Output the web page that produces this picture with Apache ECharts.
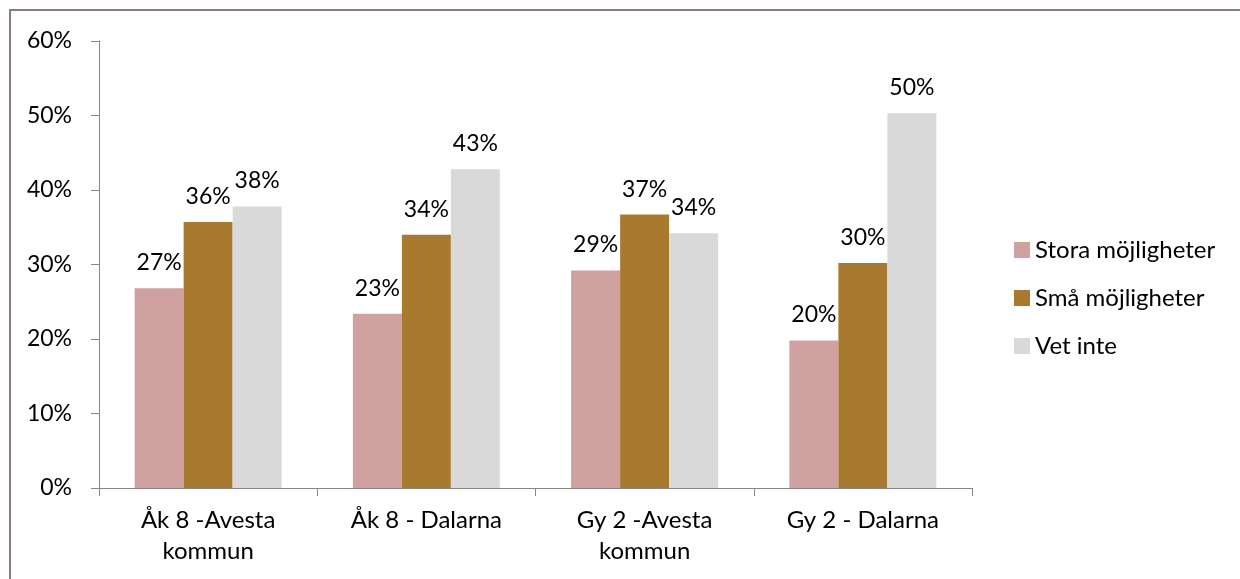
<!DOCTYPE html>
<html>
<head>
<meta charset="utf-8">
<script src="https://cdn.jsdelivr.net/npm/echarts@6/dist/echarts.min.js"></script>
<style>
html,body{margin:0;padding:0;background:#fff;}
#c{width:1240px;height:579px;}
</style>
</head>
<body>
<div id="c"></div>
<script>
const categories = ['Åk 8 -Avesta\nkommun', 'Åk 8 - Dalarna', 'Gy 2 -Avesta\nkommun', 'Gy 2 - Dalarna'];
const seriesNames = ['Stora möjligheter', 'Små möjligheter', 'Vet inte'];
const storaValues = [26.8, 23.4, 29.2, 19.8];
const smaValues = [35.7, 34.0, 36.7, 30.2];
const vetInteValues = [37.8, 42.8, 34.2, 50.3];
const yTicks = [0, 10, 20, 30, 40, 50, 60];
const colors = ['#CFA1A0', '#A87A2F', '#D9D9D9'];

const FONT = 'Lato';
const chart = echarts.init(document.getElementById('c'), null, {renderer: 'canvas'});

function barSeries(name, data, color) {
  return {
    name: name,
    type: 'bar',
    data: data,
    barWidth: 49,
    barGap: '0%',
    itemStyle: {color: color},
    label: {
      show: true,
      position: 'top',
      distance: 14,
      color: '#000',
      fontFamily: FONT,
      fontSize: 23,
      formatter: p => Math.round(p.value) + '%'
    },
    emphasis: {disabled: true}
  };
}

chart.setOption({
  animation: false,
  backgroundColor: '#fff',
  textStyle: {fontFamily: FONT},
  graphic: [{
    type: 'rect',
    shape: {x: 10, y: 10, width: 1300, height: 700},
    style: {fill: 'none', stroke: '#8B7B80', lineWidth: 2},
    silent: true
  }],
  grid: {left: 99, right: 268, top: 41, bottom: 91, containLabel: false},
  legend: {
    orient: 'vertical',
    left: 1014,
    top: 238,
    padding: 0,
    itemWidth: 16,
    itemHeight: 16,
    itemGap: 24,
    icon: 'rect',
    textStyle: {color: '#000', fontFamily: FONT, fontSize: 24, lineHeight: 24},
    data: seriesNames
  },
  xAxis: {
    type: 'category',
    data: categories,
    axisLine: {lineStyle: {color: '#868686', width: 1}},
    axisTick: {show: true, length: 8, lineStyle: {color: '#868686'}},
    axisLabel: {color: '#000', fontFamily: FONT, fontSize: 24, lineHeight: 31, margin: 17, interval: 0}
  },
  yAxis: {
    type: 'value',
    min: 0,
    max: 60,
    interval: 10,
    axisLine: {show: true, lineStyle: {color: '#868686', width: 1}},
    axisTick: {show: true, length: 8, lineStyle: {color: '#868686'}},
    splitLine: {show: false},
    axisLabel: {color: '#000', fontFamily: FONT, fontSize: 23, margin: 27, formatter: v => yTicks.includes(v) ? v + '%' : ''}
  },
  series: [
    barSeries(seriesNames[0], storaValues, colors[0]),
    barSeries(seriesNames[1], smaValues, colors[1]),
    barSeries(seriesNames[2], vetInteValues, colors[2])
  ]
});
</script>
</body>
</html>
